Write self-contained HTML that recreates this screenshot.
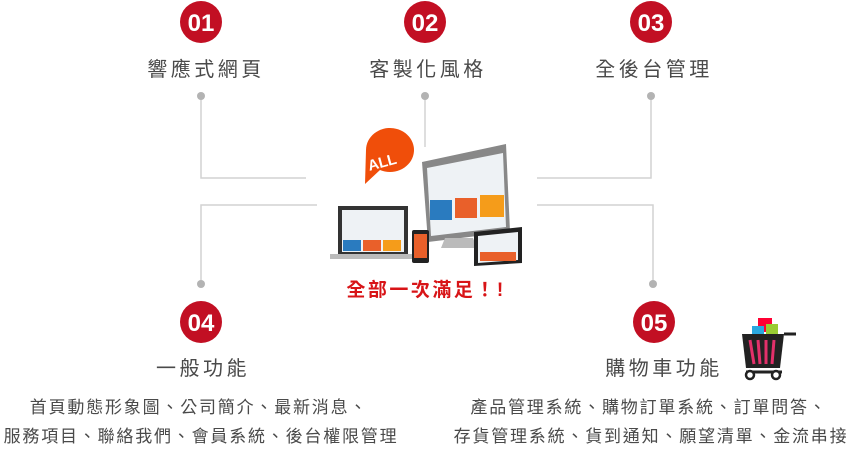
<!DOCTYPE html>
<html><head><meta charset="utf-8"><style>
html,body{margin:0;padding:0;background:#fff;width:850px;height:455px;overflow:hidden}
svg{display:block}
text{font-family:"Liberation Sans","Noto Sans CJK TC",sans-serif}
</style></head><body>
<svg width="850" height="455" viewBox="0 0 850 455">
<g stroke="#d2d2d2" stroke-width="1.5" fill="none">
<path d="M201 96V178H306"/>
<path d="M425 96V147"/>
<path d="M651 96V178H537"/>
<path d="M201 284V205H317"/>
<path d="M653 284V205H537"/>
</g>
<g fill="#b3b3b3">
<circle cx="201" cy="96" r="4"/><circle cx="425" cy="96" r="4"/><circle cx="651" cy="96" r="4"/>
<circle cx="201" cy="284" r="4"/><circle cx="653" cy="284" r="4"/>
</g>
<g fill="#c20f23">
<circle cx="201" cy="22" r="21"/><circle cx="425" cy="22" r="21"/><circle cx="651" cy="22" r="21"/>
<circle cx="201" cy="322" r="21"/><circle cx="654" cy="322" r="21"/>
</g>
<g fill="#fff" font-size="24" font-weight="bold" text-anchor="middle">
<text x="201" y="31">01</text><text x="425" y="31">02</text><text x="651" y="31">03</text>
<text x="201" y="331">04</text><text x="654" y="331">05</text>
</g>
<g fill="#4a4a4a" font-size="20" text-anchor="middle" letter-spacing="3.5">
<text x="206" y="76">響應式網頁</text><text x="428" y="76">客製化風格</text><text x="654" y="76">全後台管理</text>
<text x="203" y="375">一般功能</text><text x="664" y="375">購物車功能</text>
</g>
<g fill="#4a4a4a" font-size="17" text-anchor="middle" letter-spacing="1.8">
<text x="199" y="413">首頁動態形象圖、公司簡介、最新消息、</text>
<text x="201" y="442">服務項目、聯絡我們、會員系統、後台權限管理</text>
<text x="649" y="413">產品管理系統、購物訂單系統、訂單問答、</text>
<text x="651" y="442">存貨管理系統、貨到通知、願望清單、金流串接</text>
</g>
<text x="426" y="296" fill="#d81417" font-size="19" font-weight="bold" text-anchor="middle" letter-spacing="2.5">全部一次滿足！!</text>
<!-- ALL bubble -->
<path d="M366 150a24 22 0 1 1 14 20l-15 14z" fill="#f04e0a"/>
<text x="367" y="167" fill="#fff" font-size="15" font-weight="bold" transform="rotate(-15 383 160)">ALL</text>
<text x="404" y="158" fill="#f04e0a" font-size="14" font-weight="bold">!</text>
<!-- monitor -->
<path d="M422 162l84-18 4 88-82 10z" fill="#888"/>
<path d="M427 168l76-15 3 74-75 9z" fill="#eef2f5"/>
<rect x="430" y="200" width="22" height="20" fill="#2a7bbf"/>
<rect x="455" y="198" width="22" height="20" fill="#e9602a"/>
<rect x="480" y="195" width="24" height="22" fill="#f59c1a"/>
<path d="M445 238h28l4 10h-36z" fill="#bbb"/>
<!-- laptop -->
<rect x="338" y="206" width="70" height="48" fill="#333"/>
<rect x="342" y="210" width="62" height="42" fill="#eef2f5"/>
<rect x="343" y="240" width="18" height="11" fill="#2a7bbf"/><rect x="363" y="240" width="18" height="11" fill="#e9602a"/><rect x="383" y="240" width="18" height="11" fill="#f59c1a"/>
<rect x="330" y="254" width="86" height="5" fill="#bbb"/>
<!-- phone -->
<rect x="412" y="230" width="17" height="33" rx="2" fill="#222"/>
<rect x="414" y="234" width="13" height="24" fill="#e9602a"/>
<!-- tablet -->
<path d="M474 232l48-5 0 36-48 3z" fill="#222"/>
<path d="M478 236l40-4 0 28-40 3z" fill="#eef2f5"/>
<rect x="480" y="252" width="36" height="9" fill="#e9602a"/>
<!-- cart -->
<rect x="758" y="318" width="14" height="14" fill="#f03"/>
<rect x="752" y="326" width="12" height="10" fill="#2aa8e0"/>
<rect x="766" y="324" width="12" height="12" fill="#9c3"/>
<path d="M742 334h42l-4 34h-34z" fill="#222"/>
<path d="M750 340l4 24M758 340l2 24M766 340l0 24M774 340l-2 24" stroke="#e3306a" stroke-width="3"/>
<path d="M784 334h12" stroke="#222" stroke-width="3"/>
<path d="M746 372h36" stroke="#222" stroke-width="3"/>
<circle cx="750" cy="375" r="4" fill="#fff" stroke="#222" stroke-width="2.5"/>
<circle cx="776" cy="375" r="4" fill="#fff" stroke="#222" stroke-width="2.5"/>
</svg>
</body></html>
